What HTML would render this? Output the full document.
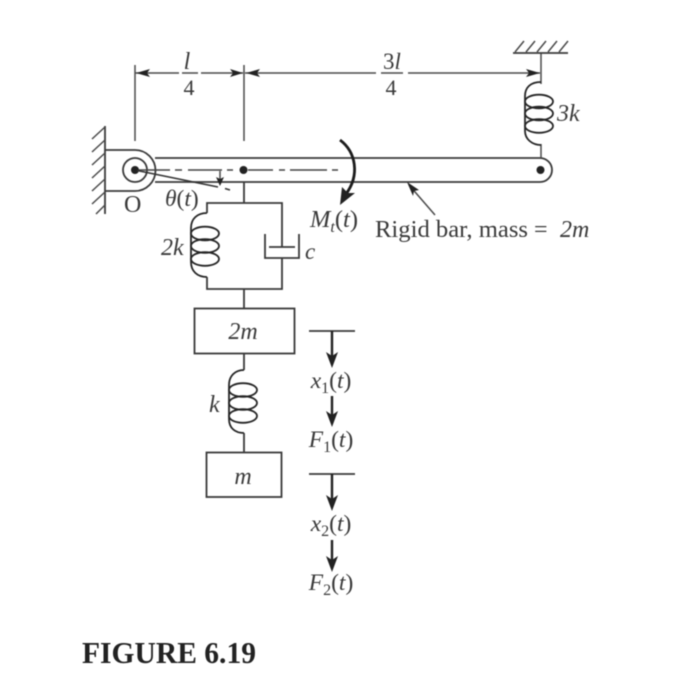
<!DOCTYPE html>
<html><head><meta charset="utf-8"><style>
html,body{margin:0;padding:0;background:#fff}
svg{display:block;filter:blur(.5px)}
text{font-family:"Liberation Serif",serif;fill:#3a3a3a}
.i{font-style:italic}
.l{stroke:#3a3a3a;stroke-width:1.8;fill:none}
.h{stroke:#4a4a4a;stroke-width:1.5;fill:none}
.s{stroke:#262626;stroke-width:1.8;fill:none}
.a{fill:#222;stroke:none}
</style></head><body>
<svg width="700" height="674" viewBox="0 0 700 674" xmlns="http://www.w3.org/2000/svg">
<rect width="700" height="674" fill="#fff"/>
<!-- Wall -->
<path class="l" d="M105 126V214"/>
<path class="h" d="M105 127L92 139M105 140L92 152M105 153L92 165M105 166L92 178M105 179L92 191M105 192L92 204M105 205L96 214"/>
<!-- Clevis and bar -->
<path class="l" d="M105 150H135A20.500 20.500 0 0 1 135 191H105"/>
<circle class="l" cx="135" cy="170" r="12"/>
<path class="l" d="M155 158H540A12 12 0 0 1 540 182H155"/>
<circle class="a" cx="135" cy="170" r="4"/>
<circle class="a" cx="243.500" cy="170" r="4"/>
<circle class="a" cx="540.500" cy="170" r="4"/>
<!-- Centre line and angle -->
<path d="M139 170H170M175 170H182M188 170H222M227 170H233M248 170H273M279 170H285M290 170H327M332 170H338" stroke="#444" stroke-width="1.400" fill="none"/>
<path d="M137 170.500L218 187M225 188.500L230 190" stroke="#333" stroke-width="1.500" fill="none"/>
<path class="h" d="M220 171V180"/>
<path class="a" d="M216 177L220 186L224 177L220 179Z"/>
<!-- Dimensions -->
<path class="h" d="M135 65V141M244 65V141M541 53V158"/>
<path class="h" d="M135 73H179M201 73H243M245 73H376M408 73H540"/>
<path class="a" d="M136 73L150 69L147 73L150 77ZM243 73L230 69L233 73L230 77ZM246 73L260 69L257 73L260 77ZM540 73L526 69L529 73L526 77Z"/>
<path class="h" d="M182 73H198M381 73H403"/>
<text x="187" y="69" font-size="24" text-anchor="middle" class="i">l</text>
<text x="189" y="95" font-size="22" text-anchor="middle">4</text>
<text x="392" y="69" font-size="23" text-anchor="middle">3<tspan class="i">l</tspan></text>
<text x="391" y="95" font-size="22" text-anchor="middle">4</text>
<!-- Top hatch -->
<path class="l" d="M513 53H568"/>
<path class="h" d="M515 52L524 41M526 52L535 41M537 52L546 41M548 52L557 41M559 52L568 41"/>
<!-- 3k spring -->
<rect x="535" y="84" width="12" height="60" fill="#fff"/>
<path class="s" d="M541 82C530 82 525 88 525 96V131C525 139 532 145 541 145"/>
<ellipse class="s" cx="539" cy="101.500" rx="14" ry="6.800"/>
<ellipse class="s" cx="539" cy="113.500" rx="14" ry="6.800"/>
<ellipse class="s" cx="539" cy="126" rx="14" ry="6.800"/>
<text x="557" y="121" font-size="24" class="i">3k</text>
<!-- Spring-damper frame -->
<path class="l" d="M244 182V203M207 213V203H282V234M282 258V289H207V277M244 289V309"/>
<path class="s" d="M207 213C197 213 191 219 191 228V262C191 271 197 277 207 277"/>
<ellipse class="s" cx="205" cy="233.500" rx="14" ry="6.800"/>
<ellipse class="s" cx="205" cy="246" rx="14" ry="6.800"/>
<ellipse class="s" cx="205" cy="259" rx="14" ry="6.800"/>
<path class="l" d="M265 234V258H299V234M269 247H295M282 234V247"/>
<text x="161" y="255" font-size="24" class="i">2k</text>
<text x="305" y="259" font-size="23" class="i">c</text>
<!-- Masses -->
<rect class="l" x="194.500" y="308.500" width="100" height="45"/>
<text x="243" y="339" font-size="24" text-anchor="middle" class="i">2m</text>
<path class="l" d="M244 353V370M244 433V452"/>
<path class="s" d="M244 370C235 370 229 376 229 385V419C229 428 235 433 244 433"/>
<ellipse class="s" cx="243" cy="390" rx="14" ry="6.800"/>
<ellipse class="s" cx="243" cy="403" rx="14" ry="6.800"/>
<ellipse class="s" cx="243" cy="416" rx="14" ry="6.800"/>
<text x="209" y="412" font-size="24" class="i">k</text>
<rect class="l" x="206.500" y="452.500" width="75" height="44.500"/>
<text x="243" y="484" font-size="24" text-anchor="middle" class="i">m</text>
<!-- Displacements -->
<path class="l" d="M309 331H355M309 474H355"/>
<path stroke="#222" stroke-width="2.400" fill="none" d="M332 331V358M332 396V418M332 474V500M332 540V562"/>
<path class="a" d="M326 352L332 368L338 352L332 356ZM326 411L332 427L338 411L332 415ZM326 495L332 511L338 495L332 499ZM326 556L332 572L338 556L332 560Z"/>
<text x="331" y="388" font-size="23.500" text-anchor="middle"><tspan class="i">x</tspan><tspan font-size="16" dy="5">1</tspan><tspan dy="-5">(</tspan><tspan class="i">t</tspan>)</text>
<text x="331" y="447" font-size="23.500" text-anchor="middle"><tspan class="i">F</tspan><tspan font-size="16" dy="5">1</tspan><tspan dy="-5">(</tspan><tspan class="i">t</tspan>)</text>
<text x="331" y="531" font-size="23.500" text-anchor="middle"><tspan class="i">x</tspan><tspan font-size="16" dy="5">2</tspan><tspan dy="-5">(</tspan><tspan class="i">t</tspan>)</text>
<text x="331" y="590" font-size="23.500" text-anchor="middle"><tspan class="i">F</tspan><tspan font-size="16" dy="5">2</tspan><tspan dy="-5">(</tspan><tspan class="i">t</tspan>)</text>
<!-- Moment -->
<path stroke="#1c1c1c" stroke-width="2.800" fill="none" d="M340 140C356 152 360 175 346 194"/>
<path class="a" d="M340 205L342 187L348 193L355 193Z"/>
<text x="310" y="227" font-size="24.500"><tspan class="i">M</tspan><tspan class="i" font-size="16" dy="5">t</tspan><tspan dy="-5">(</tspan><tspan class="i">t</tspan>)</text>
<!-- Labels -->
<text x="124" y="212" font-size="24">O</text>
<text x="165" y="206" font-size="23.500"><tspan class="i">θ</tspan>(<tspan class="i">t</tspan>)</text>
<path class="h" d="M435 215L409 185"/>
<path class="a" d="M407 182L419 190L414 191L413 196Z"/>
<text x="375" y="237" font-size="24" textLength="153" lengthAdjust="spacingAndGlyphs">Rigid bar, mass</text>
<text x="534" y="237" font-size="24">=</text>
<text x="560" y="237" font-size="24" class="i">2m</text>
<text x="82" y="663" font-size="31" font-weight="bold" textLength="174" lengthAdjust="spacingAndGlyphs" style="fill:#222">FIGURE 6.19</text>
</svg>
</body></html>
